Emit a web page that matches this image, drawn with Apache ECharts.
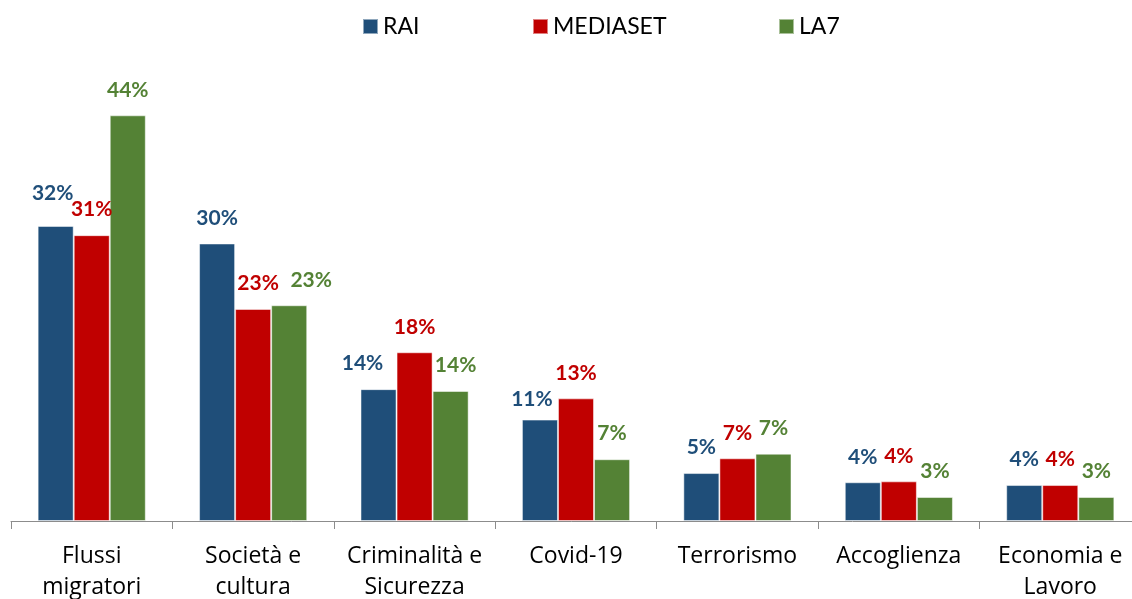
<!DOCTYPE html>
<html>
<head>
<meta charset="utf-8">
<script src="https://cdn.jsdelivr.net/npm/echarts@6/dist/echarts.min.js"></script>
<style>
html,body{margin:0;padding:0;background:#fff;}
#chart{width:1132px;height:599px;}
</style>
</head>
<body>
<div id="chart"></div>
<script>
const categories = ["Flussi\nmigratori", "Società e\ncultura", "Criminalità e\nSicurezza", "Covid-19", "Terrorismo", "Accoglienza", "Economia e\nLavoro"];
const seriesNames = ["RAI", "MEDIASET", "LA7"];
const raiValues = [32.0, 30.1, 14.3, 11.0, 5.2, 4.2, 3.9];
const mediasetValues = [31.0, 23.0, 18.3, 13.3, 6.8, 4.3, 3.9];
const la7Values = [44.0, 23.4, 14.1, 6.7, 7.3, 2.6, 2.6];
const colors = ["#1F4E79", "#C00000", "#548235"];

// manual nudges of some data labels (as in the original, to avoid overlaps)
const labelNudges = [
  {0: [-3, -7], 2: [-16, 0], 3: [-8, 5]},
  {1: [5, 0]},
  {1: [22, 0], 2: [5, 0]}
];

const FONT = "Lato";
const AXIS_FONT = "Open Sans";
const allValues = [raiValues, mediasetValues, la7Values];

const chart = echarts.init(document.getElementById('chart'), null, {renderer: 'canvas'});
const legendX = [362, 532, 778];

chart.setOption({
  animation: false,
  textStyle: {fontFamily: FONT},
  legend: seriesNames.map((n, i) => ({
    data: [n],
    left: legendX[i],
    top: 15,
    padding: 0,
    itemWidth: 15,
    itemHeight: 15,
    itemGap: 7,
    icon: 'rect',
    textStyle: {fontSize: 23, color: '#000', fontFamily: FONT, padding: [0, 0, 0, 0]}
  })),
  grid: {left: 11, top: 60, bottom: 78, width: 1130, containLabel: false, outerBoundsMode: 'none'},
  xAxis: {
    type: 'category',
    data: categories,
    axisLine: {lineStyle: {color: '#8c8c8c', width: 1}},
    axisTick: {show: true, length: 8, lineStyle: {color: '#8c8c8c'}},
    axisLabel: {color: '#000', fontSize: 23, fontFamily: AXIS_FONT, lineHeight: 31, margin: 20, interval: 0}
  },
  yAxis: {
    type: 'value', min: 0, max: 50, show: false,
    splitLine: {show: false}
  },
  series: seriesNames.map((n, i) => ({
    name: n,
    type: 'bar',
    data: allValues[i].map((v, j) => labelNudges[i][j] ? {value: v, label: {offset: labelNudges[i][j]}} : v),
    barGap: '0%',
    barCategoryGap: '33%',
    itemStyle: {color: colors[i], borderColor: 'rgba(255,255,255,0.5)', borderWidth: 1},
    label: {
      show: true,
      position: 'top',
      distance: 15,
      color: colors[i],
      fontWeight: 'bold',
      fontSize: 21,
      fontFamily: FONT,
      formatter: p => Math.round(p.value) + '%'
    }
  }))
});
</script>
</body>
</html>
